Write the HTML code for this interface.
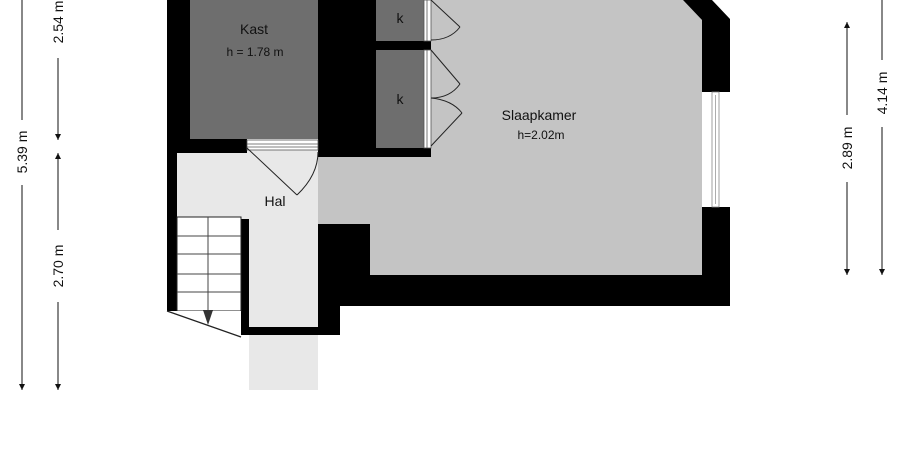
<!DOCTYPE html>
<html><head><style>html,body{margin:0;padding:0;background:#fff;}svg{display:block;}</style></head>
<body>
<svg width="905" height="460" viewBox="0 0 905 460" xmlns="http://www.w3.org/2000/svg" font-family="Liberation Sans, sans-serif">
<defs>
<marker id="a" viewBox="0 0 10 10" refX="10" refY="5" markerWidth="6" markerHeight="8" orient="auto-start-reverse" markerUnits="userSpaceOnUse"><path d="M0,0 L10,5 L0,10 z" fill="#111"/></marker>
</defs>
<rect width="905" height="460" fill="#fff"/>
<rect x="249" y="335" width="69" height="55" fill="#e8e8e8"/>
<polygon points="318,0 683,0 702,20 702,275 370,275 370,224 318,224" fill="#c4c4c4"/>
<rect x="177" y="150" width="141" height="70" fill="#e8e8e8"/>
<rect x="249" y="150" width="69" height="177" fill="#e8e8e8"/>
<rect x="167" y="0" width="23" height="153" fill="#000"/>
<rect x="167" y="139" width="80" height="14" fill="#000"/>
<rect x="167" y="150" width="10" height="161" fill="#000"/>
<rect x="318" y="0" width="58" height="157" fill="#000"/>
<rect x="376" y="148" width="55" height="9" fill="#000"/>
<rect x="376" y="41" width="55" height="9" fill="#000"/>
<rect x="318" y="224" width="52" height="82" fill="#000"/>
<rect x="318" y="275" width="412" height="31" fill="#000"/>
<rect x="318" y="300" width="22" height="35" fill="#000"/>
<rect x="241" y="327" width="99" height="8" fill="#000"/>
<rect x="241" y="219" width="8" height="116" fill="#000"/>
<polygon points="683,0 712,0 730,19 730,92 702,92 702,20" fill="#000"/>
<rect x="702" y="207" width="28" height="99" fill="#000"/>
<rect x="712" y="92" width="7" height="115" fill="#fff" stroke="#888" stroke-width="0.8"/>
<line x1="715.5" y1="95" x2="715.5" y2="204" stroke="#999" stroke-width="0.8"/>
<rect x="190" y="0" width="128" height="139" fill="#6e6e6e"/>
<rect x="376" y="0" width="48" height="41" fill="#6e6e6e"/>
<rect x="376" y="50" width="48" height="98" fill="#6e6e6e"/>
<g stroke="#555" stroke-width="0.8" fill="#fff">
<rect x="247" y="140" width="71" height="10"/>
<line x1="247" y1="144" x2="318" y2="144"/><line x1="247" y1="147" x2="318" y2="147"/>
<rect x="424" y="0" width="7" height="41"/><rect x="424" y="50" width="7" height="98"/>
<line x1="427" y1="0" x2="427" y2="41"/><line x1="427" y1="50" x2="427" y2="148"/>
</g>
<g stroke="#222" stroke-width="1" fill="none">
<line x1="247" y1="148" x2="297" y2="195"/>
<path d="M297,195 Q318,175 318,152"/>
<line x1="431" y1="0" x2="460" y2="27"/>
<path d="M460,27 Q450,40 431,40"/>
<line x1="431" y1="50" x2="460" y2="84"/>
<path d="M460,84 Q450,98 431,98"/>
<path d="M431,98 Q452,100 462,113"/>
<line x1="462" y1="113" x2="431" y2="146"/>
</g>
<rect x="177" y="217" width="64" height="94" fill="#fff" stroke="#222" stroke-width="1"/>
<polygon points="167,311 241,311 241,337" fill="#fff"/>
<line x1="167" y1="311" x2="241" y2="337" stroke="#222" stroke-width="1.2"/>
<g stroke="#444" stroke-width="1">
<line x1="177" y1="236" x2="241" y2="236"/><line x1="177" y1="254" x2="241" y2="254"/>
<line x1="177" y1="274" x2="241" y2="274"/><line x1="177" y1="292" x2="241" y2="292"/>
<line x1="208" y1="217" x2="208" y2="312"/>
</g>
<polygon points="203,310 213,310 208,325" fill="#333"/>
<g fill="#111" text-anchor="middle">
<text x="254" y="34" font-size="14">Kast</text>
<text x="255" y="56" font-size="12">h = 1.78 m</text>
<text x="400" y="23" font-size="14">k</text>
<text x="400" y="104" font-size="14">k</text>
<text x="275" y="206" font-size="14">Hal</text>
<text x="539" y="120" font-size="14">Slaapkamer</text>
<text x="541" y="139" font-size="12">h=2.02m</text>
</g>
<g stroke="#111" stroke-width="1">
<line x1="22" y1="0" x2="22" y2="120"/><line x1="22" y1="185" x2="22" y2="390" marker-end="url(#a)"/>
<line x1="58" y1="58" x2="58" y2="140" marker-end="url(#a)"/>
<line x1="58" y1="153" x2="58" y2="230" marker-start="url(#a)"/><line x1="58" y1="302" x2="58" y2="390" marker-end="url(#a)"/>
<line x1="847" y1="22" x2="847" y2="115" marker-start="url(#a)"/><line x1="847" y1="182" x2="847" y2="275" marker-end="url(#a)"/>
<line x1="882" y1="0" x2="882" y2="60" /><line x1="882" y1="127" x2="882" y2="275" marker-end="url(#a)"/>
</g>
<g fill="#111" font-size="14" text-anchor="middle">
<text transform="translate(27,152) rotate(-90)">5.39 m</text>
<text transform="translate(63,22) rotate(-90)">2.54 m</text>
<text transform="translate(63,266) rotate(-90)">2.70 m</text>
<text transform="translate(852,148) rotate(-90)">2.89 m</text>
<text transform="translate(887,93) rotate(-90)">4.14 m</text>
</g>
</svg>
</body></html>
